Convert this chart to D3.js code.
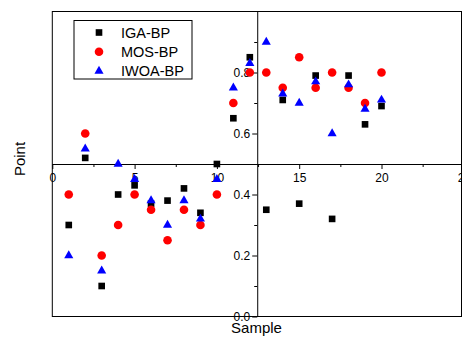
<!DOCTYPE html>
<html>
<head>
<meta charset="utf-8">
<script src="https://cdn.jsdelivr.net/npm/d3@7"></script>
<style>
html,body{margin:0;padding:0;background:#fff;}
svg{display:block;font-family:"Liberation Sans",Arial,sans-serif;}
</style>
</head>
<body>
<svg id="chart" width="462" height="337"></svg>
<script>
const samples = [1,2,3,4,5,6,7,8,9,10,11,12,13,14,15,16,17,18,19,20];
const igaBP  = [0.30,0.52,0.10,0.40,0.43,0.37,0.38,0.42,0.34,0.50,0.65,0.85,0.35,0.71,0.37,0.79,0.32,0.79,0.63,0.69];
const mosBP  = [0.40,0.60,0.20,0.30,0.40,0.35,0.25,0.35,0.30,0.40,0.70,0.80,0.80,0.75,0.85,0.75,0.80,0.75,0.70,0.80];
const iwoaBP = [0.20,0.55,0.15,0.50,0.45,0.38,0.30,0.38,0.32,0.45,0.75,0.83,0.90,0.73,0.70,0.77,0.60,0.76,0.68,0.71];
const seriesNames = ["IGA-BP","MOS-BP","IWOA-BP"];
const xTicks = [0,5,10,15,20,25];
const xMinor = [2.5,7.5,12.5,17.5,22.5];
const yTicks = [0.0,0.2,0.4,0.6,0.8];
const yMinor = [0.1,0.3,0.5,0.7,0.9];
const xAxisCross = 0.5;   // y value where the x axis sits
const yAxisCross = 12.45; // x value where the y axis sits

const svg = d3.select("#chart");
const x = d3.scaleLinear().domain([0,25]).range([52.3,463.8]);
const y = d3.scaleLinear().domain([0,1]).range([316.5,11.5]);

// frame
svg.append("rect").attr("x",52.3).attr("y",11.5).attr("width",461.5-52.3).attr("height",316.5-11.5)
  .attr("fill","none").attr("stroke","#000").attr("stroke-width",1);

// x axis
const gx = svg.append("g").attr("transform",`translate(0,${y(xAxisCross)})`)
  .call(d3.axisBottom(x).tickValues(xTicks).tickFormat(d3.format("d")).tickSize(5).tickSizeOuter(0).tickPadding(4));
gx.append("g").call(d3.axisBottom(x).tickValues(xMinor).tickSize(3).tickFormat("")).select(".domain").remove();
// y axis
const gy = svg.append("g").attr("transform",`translate(${x(yAxisCross)},0)`)
  .call(d3.axisLeft(y).tickValues(yTicks).tickFormat(d3.format(".1f")).tickSize(5).tickSizeOuter(0).tickPadding(2));
gy.append("g").call(d3.axisLeft(y).tickValues(yMinor).tickSize(3).tickFormat("")).select(".domain").remove();
svg.selectAll(".tick text").attr("font-size",12).attr("font-family","Liberation Sans, Arial, sans-serif").attr("fill","#000");
svg.selectAll(".domain, .tick line").attr("stroke","#000");

// axis titles
svg.append("text").attr("x",256.5).attr("y",333).attr("text-anchor","middle").attr("font-size",15).text("Sample");
svg.append("text").attr("transform","translate(25,159) rotate(-90)").attr("text-anchor","middle").attr("font-size",15).text("Point");

// markers
const sq = d3.symbol().type(d3.symbolSquare).size(44);
const ci = d3.symbol().type(d3.symbolCircle).size(58);
const tr = d3.symbol().type(d3.symbolTriangle).size(36);
const defs = [
  {name:seriesNames[0], vals:igaBP, sym:sq, color:"#000000"},
  {name:seriesNames[1], vals:mosBP, sym:ci, color:"#ff0000"},
  {name:seriesNames[2], vals:iwoaBP, sym:tr, color:"#0000ff"}
];
defs.forEach(s => {
  svg.append("g").selectAll("path").data(samples.map((d,i)=>[d,s.vals[i]])).join("path")
    .attr("d",s.sym).attr("fill",s.color)
    .attr("transform",d=>`translate(${x(d[0])},${y(d[1])})`);
});

// legend
const lg = svg.append("g");
lg.append("rect").attr("x",74).attr("y",20.5).attr("width",118).attr("height",58.5)
  .attr("fill","#fff").attr("stroke","#000").attr("stroke-width",1);
defs.forEach((s,i) => {
  const cy = 32.5 + i*19.3;
  lg.append("path").attr("d",s.sym).attr("fill",s.color).attr("transform",`translate(99,${cy})`);
  lg.append("text").attr("x",121).attr("y",cy).attr("dy","0.36em").attr("font-size",14.5).text(s.name);
});
</script>
</body>
</html>
